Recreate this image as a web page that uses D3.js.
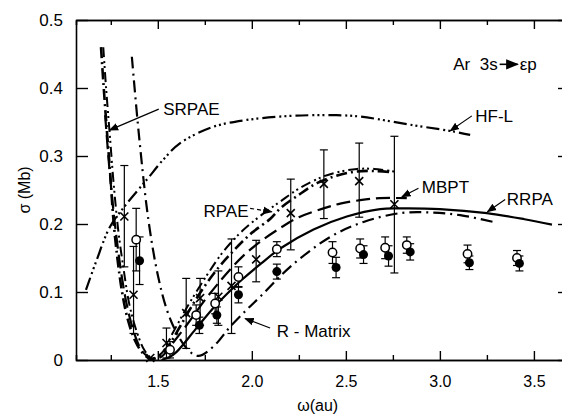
<!DOCTYPE html>
<html>
<head>
<meta charset="utf-8">
<script src="https://cdn.jsdelivr.net/npm/d3@7"></script>
<style>
  body { margin: 0; background: #fff; }
  svg { display: block; font-family: "Liberation Sans", Arial, sans-serif; }
</style>
</head>
<body>
<svg id="chart" width="562" height="414"></svg>
<script>
// curves, [omega (au), sigma (Mb)]
var hfl = [[1.118, 0.103], [1.175, 0.147], [1.246, 0.196], [1.335, 0.230], [1.441, 0.265], [1.53, 0.295],
  [1.619, 0.319], [1.796, 0.343], [1.973, 0.353], [2.15, 0.358], [2.31, 0.360], [2.45, 0.360],
  [2.576, 0.358], [2.842, 0.346], [3.072, 0.336], [3.161, 0.331]];
var srpae = [[1.198, 0.46], [1.21, 0.41], [1.229, 0.338], [1.248, 0.27], [1.264, 0.206], [1.285, 0.15],
  [1.31, 0.10], [1.34, 0.06], [1.38, 0.028], [1.42, 0.01], [1.46, 0.002], [1.50, 0.004], [1.55, 0.018],
  [1.62, 0.05], [1.70, 0.088], [1.80, 0.128], [1.90, 0.16], [2.00, 0.187], [2.10, 0.208], [2.151, 0.223],
  [2.25, 0.243], [2.346, 0.26], [2.45, 0.271], [2.55, 0.277], [2.65, 0.278], [2.75, 0.276]];
var rpae = [[1.21, 0.46], [1.225, 0.40], [1.245, 0.33], [1.265, 0.26], [1.29, 0.19], [1.32, 0.13],
  [1.35, 0.08], [1.39, 0.04], [1.43, 0.014], [1.47, 0.003], [1.52, 0.01], [1.58, 0.04], [1.65, 0.075],
  [1.75, 0.12], [1.85, 0.16], [1.95, 0.19], [2.05, 0.213], [2.151, 0.233], [2.25, 0.252], [2.381, 0.27],
  [2.47, 0.277], [2.559, 0.281], [2.65, 0.281], [2.762, 0.277]];
var mbpt = [[1.22, 0.36], [1.24, 0.29], [1.26, 0.23], [1.285, 0.17], [1.31, 0.12], [1.34, 0.075],
  [1.38, 0.035], [1.42, 0.012], [1.47, 0.002], [1.52, 0.005], [1.58, 0.025], [1.65, 0.05], [1.75, 0.088],
  [1.85, 0.122], [1.95, 0.152], [2.05, 0.175], [2.151, 0.194], [2.25, 0.21], [2.381, 0.223], [2.47, 0.23],
  [2.576, 0.235], [2.68, 0.238], [2.824, 0.238]];
var rrpa = [[1.52, 0.0], [1.56, 0.004], [1.6, 0.012], [1.7, 0.045], [1.8, 0.078], [1.9, 0.106], [1.947, 0.118],
  [2.05, 0.142], [2.151, 0.164], [2.328, 0.192], [2.505, 0.211], [2.682, 0.222], [2.789, 0.223],
  [3.0, 0.222], [3.25, 0.216], [3.45, 0.207], [3.596, 0.199]];
var rmatrix = [[1.362, 0.446], [1.40, 0.33], [1.45, 0.206], [1.50, 0.125], [1.548, 0.074], [1.60, 0.04],
  [1.66, 0.015], [1.716, 0.006], [1.796, 0.02], [1.885, 0.049], [1.973, 0.074], [2.044, 0.093],
  [2.204, 0.137], [2.417, 0.181], [2.594, 0.203], [2.789, 0.216], [2.95, 0.217], [3.108, 0.213], [3.285, 0.203]];

// measurements: [omega, sigma, lower, upper]
var crosses = [[1.322, 0.211, 0.137, 0.286], [1.371, 0.096, 0.039, 0.167], [1.46, 0.003, 0.003, 0.003],
  [1.546, 0.025, 0.003, 0.047], [1.651, 0.069, 0.017, 0.120], [1.725, 0.091, 0.051, 0.120],
  [1.822, 0.093, 0.051, 0.131], [1.892, 0.109, 0.039, 0.178], [2.023, 0.148, 0.115, 0.176],
  [2.207, 0.216, 0.162, 0.266], [2.383, 0.259, 0.208, 0.309], [2.571, 0.263, 0.210, 0.319],
  [2.758, 0.229, 0.128, 0.329]];
// [omega, sigma, error]
var openPts = [[1.385, 0.177, 0.046], [1.565, 0.015, 0.012], [1.704, 0.066, 0.015], [1.805, 0.083, 0.015],
  [1.929, 0.122, 0.015], [2.133, 0.163, 0.011], [2.429, 0.158, 0.016], [2.576, 0.164, 0.014],
  [2.709, 0.165, 0.016], [2.824, 0.169, 0.012], [3.147, 0.156, 0.013], [3.41, 0.150, 0.011]];
var filledPts = [[1.403, 0.146, 0.035], [1.721, 0.051, 0.012], [1.814, 0.066, 0.012], [1.929, 0.096, 0.012],
  [2.133, 0.130, 0.011], [2.448, 0.136, 0.015], [2.594, 0.155, 0.013], [2.727, 0.153, 0.015],
  [2.842, 0.159, 0.012], [3.157, 0.143, 0.010], [3.423, 0.142, 0.011]];

var xMajor = [1.5, 2.0, 2.5, 3.0, 3.5];
var xMinor = [1.25, 1.75, 2.25, 2.75, 3.25];
var yMajor = [0, 0.1, 0.2, 0.3, 0.4, 0.5];

// labels: text, [omega, sigma] of text, arrow from, arrow to
var labels = [
  {text: "SRPAE", at: [1.529, 0.36], from: [1.505, 0.369], to: [1.243, 0.338], dash: null},
  {text: "HF-L", at: [3.188, 0.35], from: [3.170, 0.359], to: [3.055, 0.337], dash: null},
  {text: "RPAE", at: [1.743, 0.211], from: [1.991, 0.223], to: [2.106, 0.218], dash: "4,3"},
  {text: "MBPT", at: [2.904, 0.245], from: [2.886, 0.2525], to: [2.798, 0.240], dash: null},
  {text: "RRPA", at: [3.356, 0.228], from: [3.347, 0.236], to: [3.253, 0.218], dash: null},
  {text: "R - Matrix", at: [2.133, 0.034], from: [2.097, 0.047], to: [1.964, 0.061], dash: null}
];

var svg = d3.select("#chart");
var x = d3.scaleLinear().domain([1.065, 3.66]).range([76, 564]);
var y = d3.scaleLinear().domain([0, 0.5]).range([360, 20]);
var fmt = function(d) { return d === 0 ? "0" : d3.format(".1f")(d); };

svg.append("defs").append("marker")
  .attr("id", "head").attr("viewBox", "0 0 10 10").attr("refX", 9).attr("refY", 5)
  .attr("markerWidth", 8).attr("markerHeight", 8).attr("orient", "auto")
  .append("path").attr("d", "M0,1 L10,5 L0,9 Z").attr("fill", "#000");

// axes, ticks point inward
function styleAxis(g) {
  g.select(".domain").attr("stroke", "#000").attr("stroke-width", 1.6);
  g.selectAll(".tick line").attr("stroke", "#000").attr("stroke-width", 1.4);
  g.selectAll(".tick text").attr("fill", "#000");
}
svg.append("g").attr("transform", "translate(0,360)")
  .call(d3.axisBottom(x).tickValues(xMinor).tickSize(-5).tickFormat("")).call(styleAxis);
svg.append("g").attr("transform", "translate(0,360)")
  .call(d3.axisBottom(x).tickValues(xMajor).tickSizeInner(-9).tickSizeOuter(0).tickPadding(16).tickFormat(d3.format(".1f")))
  .call(styleAxis).selectAll("text").attr("font-size", 16);
svg.append("g").attr("transform", "translate(0,20)")
  .call(d3.axisTop(x).tickValues(xMinor).tickSize(-5).tickFormat("")).call(styleAxis);
svg.append("g").attr("transform", "translate(0,20)")
  .call(d3.axisTop(x).tickValues(xMajor).tickSizeInner(-9).tickSizeOuter(0).tickFormat("")).call(styleAxis);
svg.append("g").attr("transform", "translate(76,0)")
  .call(d3.axisLeft(y).tickValues(yMajor).tickSizeInner(-12).tickSizeOuter(0).tickPadding(13).tickFormat(fmt))
  .call(styleAxis).selectAll("text").attr("font-size", 17);
svg.append("g").attr("transform", "translate(564,0)")
  .call(d3.axisRight(y).tickValues(yMajor).tickSizeInner(-6).tickSizeOuter(0).tickFormat("")).call(styleAxis);

svg.append("text").attr("transform", "translate(30," + y(0.25) + ") rotate(-90)")
  .attr("text-anchor", "middle").attr("font-size", 16).attr("fill", "#000").text("σ (Mb)");
svg.append("text").attr("x", x(2.35)).attr("y", 411)
  .attr("text-anchor", "middle").attr("font-size", 16).attr("fill", "#000").text("ω(au)");

// theory curves
var line = d3.line().x(function(d) { return x(d[0]); }).y(function(d) { return y(d[1]); }).curve(d3.curveCatmullRom);
var curves = [
  {data: hfl, dash: "13,4,2,3,2,3,2,4", w: 2.2},
  {data: srpae, dash: "11,4,2,4", w: 2.6},
  {data: rpae, dash: "10,4,2,3,2,4", w: 2},
  {data: mbpt, dash: "14,6", w: 2.2},
  {data: rrpa, dash: null, w: 2.2},
  {data: rmatrix, dash: "12,5,2,5", w: 2.2}
];
svg.append("g").selectAll("path").data(curves).enter().append("path")
  .attr("d", function(d) { return line(d.data); })
  .attr("fill", "none").attr("stroke", "#000")
  .attr("stroke-width", function(d) { return d.w; })
  .attr("stroke-dasharray", function(d) { return d.dash; });

// error bars
function bars(sel, lo, hi) {
  sel.append("line").attr("x1", function(d) { return x(d[0]); }).attr("x2", function(d) { return x(d[0]); })
    .attr("y1", function(d) { return y(lo(d)); }).attr("y2", function(d) { return y(hi(d)); });
  sel.append("line").attr("x1", function(d) { return x(d[0]) - 4; }).attr("x2", function(d) { return x(d[0]) + 4; })
    .attr("y1", function(d) { return y(hi(d)); }).attr("y2", function(d) { return y(hi(d)); });
  sel.append("line").attr("x1", function(d) { return x(d[0]) - 4; }).attr("x2", function(d) { return x(d[0]) + 4; })
    .attr("y1", function(d) { return y(lo(d)); }).attr("y2", function(d) { return y(lo(d)); });
}
var cg = svg.append("g").attr("stroke", "#000").attr("stroke-width", 1.2)
  .selectAll("g").data(crosses.filter(function(d) { return d[3] > d[2]; })).enter().append("g");
bars(cg, function(d) { return d[2]; }, function(d) { return d[3]; });
var og = svg.append("g").attr("stroke", "#000").attr("stroke-width", 1.2)
  .selectAll("g").data(openPts).enter().append("g");
bars(og, function(d) { return d[1] - d[2]; }, function(d) { return d[1] + d[2]; });
var fg = svg.append("g").attr("stroke", "#000").attr("stroke-width", 1.2)
  .selectAll("g").data(filledPts).enter().append("g");
bars(fg, function(d) { return d[1] - d[2]; }, function(d) { return d[1] + d[2]; });

// markers
svg.append("g").selectAll("path").data(crosses).enter().append("path")
  .attr("d", function(d) {
    var cx = x(d[0]), cy = y(d[1]), s = 4;
    return "M" + (cx - s) + "," + (cy - s) + "L" + (cx + s) + "," + (cy + s) + "M" + (cx - s) + "," + (cy + s) + "L" + (cx + s) + "," + (cy - s);
  })
  .attr("stroke", "#000").attr("stroke-width", 1.6);
svg.append("g").selectAll("circle").data(openPts).enter().append("circle")
  .attr("cx", function(d) { return x(d[0]); }).attr("cy", function(d) { return y(d[1]); })
  .attr("r", 4.2).attr("fill", "#fff").attr("stroke", "#000").attr("stroke-width", 1.5);
svg.append("g").selectAll("circle").data(filledPts).enter().append("circle")
  .attr("cx", function(d) { return x(d[0]); }).attr("cy", function(d) { return y(d[1]); })
  .attr("r", 4.5).attr("fill", "#000");

// curve labels with arrows
var lg = svg.append("g").selectAll("g").data(labels).enter().append("g");
lg.append("line")
  .attr("x1", function(d) { return x(d.from[0]); }).attr("y1", function(d) { return y(d.from[1]); })
  .attr("x2", function(d) { return x(d.to[0]); }).attr("y2", function(d) { return y(d.to[1]); })
  .attr("stroke", "#000").attr("stroke-width", 1.2)
  .attr("stroke-dasharray", function(d) { return d.dash; })
  .attr("marker-end", "url(#head)");
lg.append("text")
  .attr("x", function(d) { return x(d.at[0]); }).attr("y", function(d) { return y(d.at[1]); })
  .attr("font-size", 17).attr("fill", "#000").text(function(d) { return d.text; });

// transition label: "Ar  3s" -> "εp"
var tl = svg.append("g").attr("font-size", 17).attr("fill", "#000");
var t1 = tl.append("text").attr("x", x(3.071)).attr("y", y(0.426)).attr("xml:space", "preserve").text("Ar  3s");
var t1end = x(3.071) + t1.node().getComputedTextLength();
tl.append("line").attr("x1", t1end + 2).attr("x2", t1end + 20)
  .attr("y1", y(0.426) - 6).attr("y2", y(0.426) - 6)
  .attr("stroke", "#000").attr("stroke-width", 1.6).attr("marker-end", "url(#head)");
tl.append("text").attr("x", t1end + 22).attr("y", y(0.426)).text("εp");
</script>
</body>
</html>
